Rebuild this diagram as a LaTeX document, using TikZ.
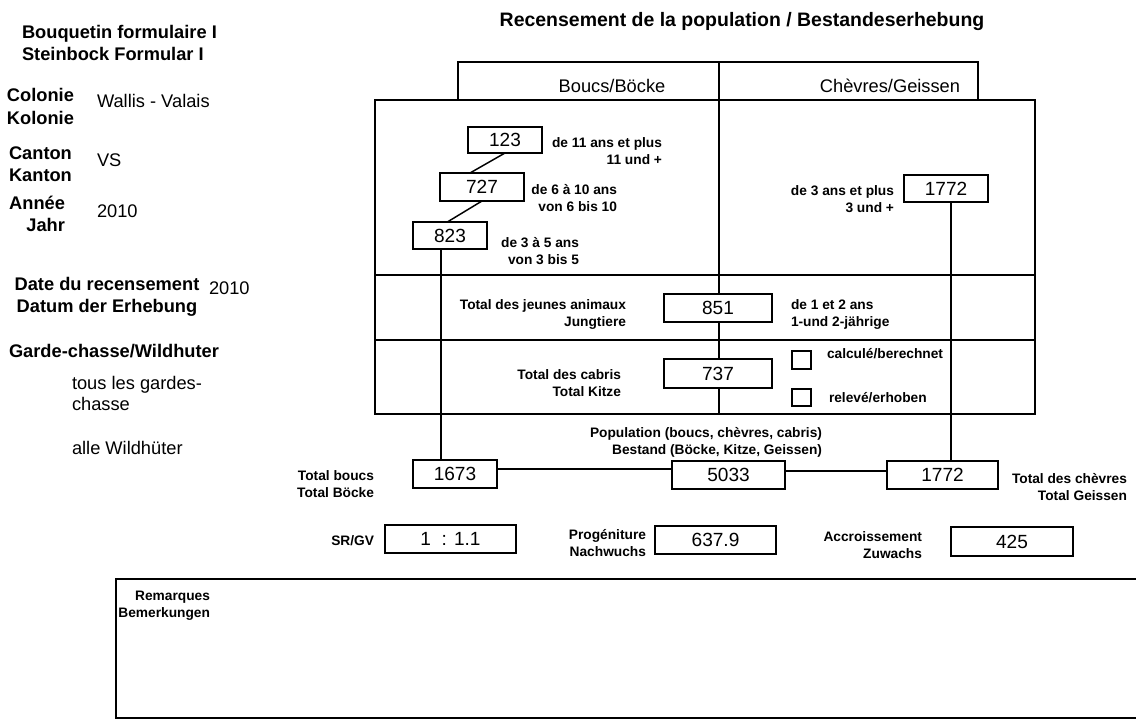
\documentclass[tikz,border=0pt]{standalone}
\usepackage{fontspec}
\setmainfont{Liberation Sans}
\begin{document}
\begin{tikzpicture}[x=0.75pt,y=-0.75pt,
  every node/.style={inner sep=0pt, outer sep=0pt},
  ln/.style={line width=1.1pt},
  numbox/.style={draw, line width=1.1pt, fill=white, font=\fontsize{14.3}{17}\selectfont},
  wh/.style 2 args={minimum width=#1*0.75pt, minimum height=#2*0.75pt},
  chk/.style={draw, line width=1pt, fill=white},
  sb/.style={font=\fontsize{10.3}{13.1}\selectfont\bfseries},
  sbr/.style={sb, align=right, anchor=base east},
  sbl/.style={sb, align=left, anchor=base west},
  big/.style={font=\fontsize{13.7}{16.9}\selectfont\bfseries},
  reg/.style={font=\fontsize{13.7}{15}\selectfont},
  titlef/.style={font=\fontsize{14.6}{17}\selectfont\bfseries},
]
\fill[white] (0,0) rectangle (1136,720);
\useasboundingbox (0,0) rectangle (1136,720);

% ---------- left column (multi-line nodes: anchor at the last baseline) ----------
\node[big, align=left, anchor=base west] (form) at (22,60.5) {Bouquetin formulaire I\\[-0.6pt]Steinbock Formular I};
\node[big, align=left, anchor=base west] (colonie) at (7,124.5) {Colonie\\Kolonie};
\node[reg, anchor=base west] (colv) at (97,108) {Wallis - Valais};
\node[big, align=left, anchor=base west] (canton) at (9,182) {Canton\\Kanton};
\node[reg, anchor=base west] (canv) at (97,167) {VS};
\node[big, align=right, anchor=base east] (annee) at (65,232) {Année\\Jahr};
\node[reg, anchor=base west] (anv) at (97,217.5) {2010};
\node[big, align=center, anchor=base] (date) at (107,313) {Date du recensement\\Datum der Erhebung};
\node[reg, anchor=base west] (datev) at (209,294.5) {2010};
\node[big, anchor=base west] (garde) at (9,358) {Garde-chasse/Wildhuter};
\node[reg, align=left, anchor=base west] (gardev) at (72,410.5) {tous les gardes-\\[0.5pt]chasse};
\node[reg, anchor=base west] (gardew) at (72,455) {alle Wildhüter};

% ---------- title ----------
\node[titlef, anchor=base] (title) at (742,27) {Recensement de la population / Bestandeserhebung};

% ---------- frames ----------
\draw[ln] (458,100) -- (458,62) -- (978,62) -- (978,100);
\draw[ln] (375,100) rectangle (1035,414);
\draw[ln] (375,275) -- (1035,275);
\draw[ln] (375,340) -- (1035,340);
\coordinate (ctop) at (719,62);
\coordinate (cbot) at (719,414);
\draw[ln] (ctop) -- (cbot);
\draw[ln] (1136,579) -- (116,579) -- (116,718) -- (1136,718);

\node[reg, anchor=base] (boucs) at (612,92.5) {Boucs/Böcke};
\node[reg, anchor=base] (chevres) at (890,92.5) {Chèvres/Geissen};

% ---------- boxes ----------
\node[numbox, wh={74}{26}] (b123) at (505,140) {123};
\node[numbox, wh={84}{28}] (b727) at (482,187) {727};
\node[numbox, wh={74}{27}] (b823) at (450,235.5) {823};
\node[numbox, wh={84}{27}] (g1772a) at (946,188.5) {1772};
\node[numbox, wh={108}{28}] (b851) at (718,308) {851};
\node[numbox, wh={108}{29}] (b737) at (718,373.5) {737};
\node[numbox, wh={84}{28}] (b1673) at (455,474) {1673};
\node[numbox, wh={113}{28}] (b5033) at (728.5,475) {5033};
\node[numbox, wh={111}{28}] (g1772) at (942.5,475) {1772};
\node[numbox, wh={131}{28}] (sr) at (450.5,539) {1 \ : 1.1};
\node[numbox, wh={121}{28}] (prog) at (715.5,540) {637.9};
\node[numbox, wh={122}{29}] (acc) at (1012,541.5) {425};
\node[chk, wh={19}{18}] (c1) at (801.5,360) {};
\node[chk, wh={19}{17}] (c2) at (801.5,397.5) {};

% ---------- connectors ----------
\coordinate (lx) at (441,0);
\coordinate (rx) at (951,0);
\draw[ln] (b123.south) -- ([xshift=-9pt]b727.north);
\draw[ln] (b727.south) -- ([xshift=-2pt]b823.north);
\draw[ln] (b823.south -| lx) -- (b1673.north -| lx);
\draw[ln] (g1772a.south -| rx) -- (g1772.north -| rx);
\draw[ln] ([yshift=3.75pt]b1673.east) -- ([yshift=3.75pt]b1673.east -| b5033.west);
\draw[ln] ([yshift=3pt]b5033.east) -- ([yshift=3pt]b5033.east -| g1772.west);

% ---------- labels ----------
\node[sbr] (l11) at (662,165) {de 11 ans et plus\\11 und +};
\node[sbr] (l6) at (617,211.5) {de 6 à 10 ans\\von 6 bis 10};
\node[sbr] (l3) at (579,264.5) {de 3 à 5 ans\\von 3 bis 5};
\node[sbr] (g3) at (894,212.5) {de 3 ans et plus\\3 und +};
\node[sbr] (jeunes) at (626,327) {Total des jeunes animaux\\Jungtiere};
\node[sbl] (ans12) at (791,327) {de 1 et 2 ans\\1-und 2-jährige};
\node[sbr] (cabris) at (621,397) {Total des cabris\\Total Kitze};
\node[sbl] (calc) at (827,358.5) {calculé/berechnet};
\node[sbl] (rel) at (829,402.5) {relevé/erhoben};
\node[sbr] (pop) at (822,455) {Population (boucs, chèvres, cabris)\\Bestand (Böcke, Kitze, Geissen)};
\node[sbr] (tb) at (374,497.5) {Total boucs\\Total Böcke};
\node[sbr] (tc) at (1127,500.5) {Total des chèvres\\Total Geissen};
\node[sbr] (srl) at (374,545) {SR/GV};
\node[sbr] (progl) at (646,556.5) {Progéniture\\Nachwuchs};
\node[sbr] (accl) at (922,558.5) {Accroissement\\Zuwachs};
\node[sbr] (rem) at (210,617.5) {Remarques\\Bemerkungen};
\end{tikzpicture}
\end{document}
